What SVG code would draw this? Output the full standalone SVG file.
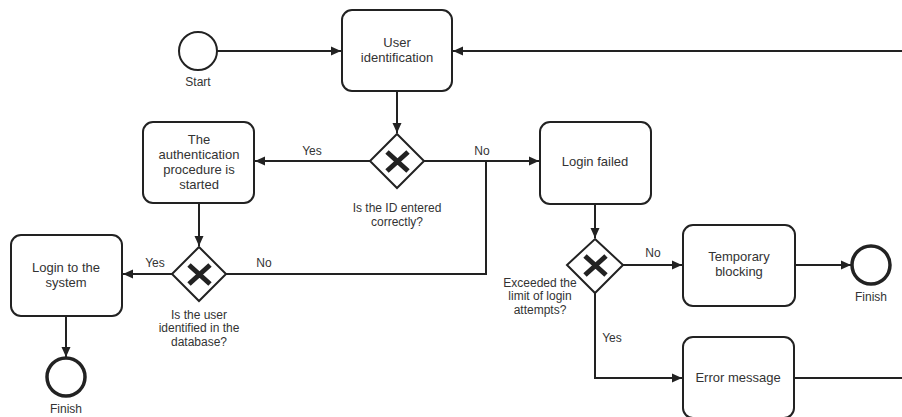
<svg xmlns="http://www.w3.org/2000/svg" width="902" height="417" viewBox="0 0 902 417">
  <style>
    .task { fill: #ffffff; stroke: #222222; stroke-width: 2; }
    .gw { fill: #ffffff; stroke: #222222; stroke-width: 2; }
    .gx { stroke: #222222; stroke-width: 5; stroke-linecap: butt; }
    .start { fill: #ffffff; stroke: #222222; stroke-width: 2; }
    .end { fill: #ffffff; stroke: #222222; stroke-width: 3.5; }
    .flow { fill: none; stroke: #222222; stroke-width: 2; }
    .arrow { marker-end: url(#head); }
    text { font-family: "Liberation Sans", Arial, sans-serif; fill: #333333; text-anchor: middle; }
    .t13 { font-size: 13px; }
    .t12 { font-size: 12px; }
  </style>
  <defs>
    <marker id="head" viewBox="0 0 10 10" refX="10" refY="5" markerWidth="10" markerHeight="10" markerUnits="userSpaceOnUse" orient="auto">
      <path d="M0,0.5 L10,5 L0,9.5 Z" fill="#222222"/>
    </marker>
  </defs>

  <rect width="902" height="417" fill="#ffffff"/>

  <!-- sequence flows -->
  <g id="connectors">
    <path class="flow arrow" d="M217,51 H341"/>
    <path class="flow arrow" d="M902,51 H453"/>
    <path class="flow arrow" d="M397,91 V133"/>
    <path class="flow arrow" d="M370,161 H255"/>
    <path class="flow arrow" d="M424,161 H539"/>
    <path class="flow" d="M226,274 H486 V161"/>
    <path class="flow arrow" d="M199,203 V246"/>
    <path class="flow arrow" d="M172,274 H123"/>
    <path class="flow arrow" d="M66,316 V357"/>
    <path class="flow arrow" d="M595,204 V238"/>
    <path class="flow arrow" d="M623,265 H682"/>
    <path class="flow arrow" d="M795,265 H851"/>
    <path class="flow arrow" d="M595,293 V378 H682"/>
    <path class="flow" d="M794,378 H902"/>
    <text class="t12" x="312" y="155">Yes</text>
    <text class="t12" x="482" y="155">No</text>
    <text class="t12" x="155" y="267">Yes</text>
    <text class="t12" x="264" y="267">No</text>
    <text class="t12" x="653" y="257">No</text>
    <text class="t12" x="612" y="342">Yes</text>
  </g>

  <g id="start">
    <circle class="start" cx="198" cy="51" r="19"/>
    <text class="t12" x="198" y="86">Start</text>
  </g>

  <g id="user-identification">
    <rect class="task" x="342" y="10" width="110" height="81" rx="10"/>
    <text class="t13" x="397" y="47">User</text>
    <text class="t13" x="397" y="62">identification</text>
  </g>

  <g id="gateway-id-check">
    <path class="gw" d="M397,134 L424,161 L397,188 L370,161 Z"/>
    <path class="gx" d="M387,152 L408,171 M408,152 L387,171"/>
    <text class="t12" x="397" y="212">Is the ID entered</text>
    <text class="t12" x="397" y="226">correctly?</text>
  </g>

  <g id="authentication-started">
    <rect class="task" x="143" y="122" width="111" height="81" rx="10"/>
    <text class="t13" x="199" y="144">The</text>
    <text class="t13" x="199" y="159">authentication</text>
    <text class="t13" x="199" y="174">procedure is</text>
    <text class="t13" x="199" y="189">started</text>
  </g>

  <g id="gateway-user-check">
    <path class="gw" d="M199,247 L226,274 L199,301 L172,274 Z"/>
    <path class="gx" d="M189,265 L210,284 M210,265 L189,284"/>
    <text class="t12" x="199" y="319">Is the user</text>
    <text class="t12" x="199" y="332">identified in the</text>
    <text class="t12" x="199" y="346">database?</text>
  </g>

  <g id="login-to-system">
    <rect class="task" x="11" y="235" width="111" height="81" rx="10"/>
    <text class="t13" x="66" y="272">Login to the</text>
    <text class="t13" x="66" y="287">system</text>
  </g>

  <g id="finish-login">
    <circle class="end" cx="66" cy="377" r="19"/>
    <text class="t12" x="66" y="413">Finish</text>
  </g>

  <g id="login-failed">
    <rect class="task" x="540" y="122" width="111" height="82" rx="10"/>
    <text class="t13" x="595" y="166">Login failed</text>
  </g>

  <g id="gateway-attempts">
    <path class="gw" d="M595,239 L623,265 L595,293 L567,265 Z"/>
    <path class="gx" d="M585,256 L606,275 M606,256 L585,275"/>
    <text class="t12" x="540" y="287">Exceeded the</text>
    <text class="t12" x="540" y="300">limit of login</text>
    <text class="t12" x="540" y="314">attempts?</text>
  </g>

  <g id="temporary-blocking">
    <rect class="task" x="683" y="225" width="112" height="81" rx="10"/>
    <text class="t13" x="739" y="261">Temporary</text>
    <text class="t13" x="739" y="276">blocking</text>
  </g>

  <g id="finish-blocking">
    <circle class="end" cx="871" cy="265" r="19"/>
    <text class="t12" x="871" y="301">Finish</text>
  </g>

  <g id="error-message">
    <rect class="task" x="683" y="337" width="111" height="81" rx="10"/>
    <text class="t13" x="738" y="382">Error message</text>
  </g>
</svg>
